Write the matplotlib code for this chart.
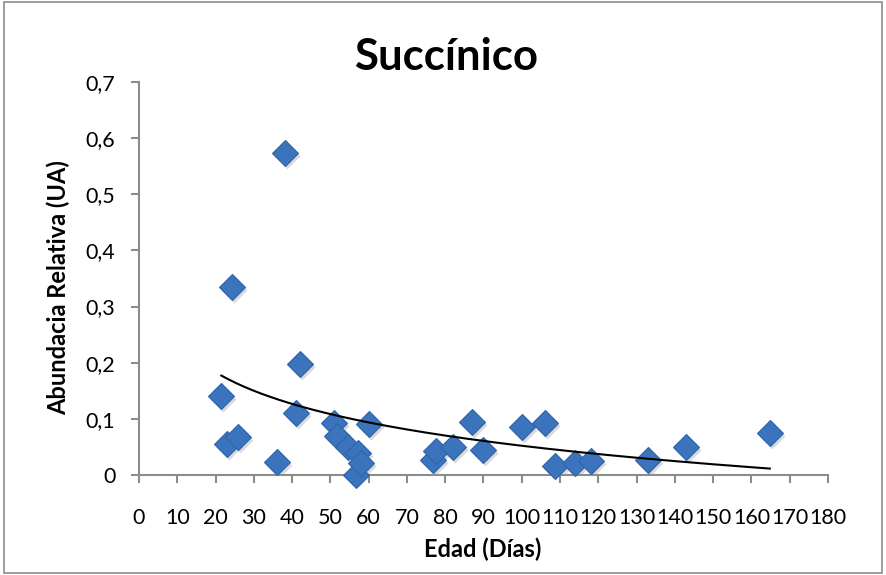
import matplotlib
matplotlib.use('Agg')
import matplotlib.pyplot as plt
import matplotlib.transforms as mtransforms
from matplotlib.patches import Rectangle
import numpy as np

# Edad (días) y abundancia relativa de succínico
edad = [21.5, 22.9, 24.3, 25.9, 36.0, 38.1, 41.0, 42.1, 51.0, 51.8, 54.6,
        56.8, 57.3, 58.1, 60.1, 76.8, 77.7, 82.1, 87.1, 89.9, 100.1, 106.1,
        108.8, 113.8, 118.2, 132.9, 143.0, 164.8]
abundancia = [0.141, 0.056, 0.335, 0.068, 0.024, 0.574, 0.111, 0.198, 0.092,
              0.070, 0.050, 0.000, 0.040, 0.021, 0.091, 0.026, 0.042, 0.049,
              0.095, 0.044, 0.085, 0.092, 0.016, 0.021, 0.025, 0.027, 0.050,
              0.074]

x_ticks = list(range(0, 181, 10))
y_ticks = [0, 0.1, 0.2, 0.3, 0.4, 0.5, 0.6, 0.7]
y_labels = ['0', '0,1', '0,2', '0,3', '0,4', '0,5', '0,6', '0,7']

plt.rcParams['font.family'] = ['Lato', 'DejaVu Sans']

fig = plt.figure(figsize=(8.86, 5.75), dpi=100)
ax = fig.add_axes([0.1569, 0.1739, 0.7776, 0.6835])

# línea de tendencia logarítmica (como en Excel)
xa = np.array(edad)
ya = np.array(abundancia)
a, b = np.polyfit(np.log(xa), ya, 1)
xt = np.linspace(xa.min(), xa.max(), 200)
ax.plot(xt, a * np.log(xt) + b, color='black', lw=1.5, zorder=4)

# sombra de los marcadores
shadow = mtransforms.offset_copy(ax.transData, fig=fig, x=2, y=-3, units='dots')
ax.plot(edad, abundancia, 'D', ms=13.5, color='#9a9a9a', alpha=0.35,
        mec='none', transform=shadow, zorder=2)
ax.plot(edad, abundancia, 'D', ms=13.5, color='#3b74bd', mec='#2f63a8',
        mew=0.8, zorder=3, clip_on=False)

ax.set_xlim(0, 180)
ax.set_ylim(0, 0.7)
ax.set_xticks(x_ticks)
ax.set_xticklabels([str(t) for t in x_ticks])
ax.set_yticks(y_ticks)
ax.set_yticklabels(y_labels)

for s in ['top', 'right']:
    ax.spines[s].set_visible(False)
for s in ['left', 'bottom']:
    ax.spines[s].set_color('#8c8c8c')
    ax.spines[s].set_linewidth(1.5)
ax.tick_params(axis='both', direction='out', colors='#8c8c8c', width=1.5,
               length=6, labelcolor='black', labelsize=15.5)
ax.tick_params(axis='x', pad=18)
ax.tick_params(axis='y', pad=11)

fig.suptitle('Succínico', x=0.503, y=1 - 70 / 575, va='baseline',
             fontsize=31.5, fontweight='bold')
ax.set_xlabel('Edad (Días)', fontsize=17, fontweight='bold')
ax.set_ylabel('Abundacia Relativa (UA)', fontsize=17, fontweight='bold')
ax.xaxis.set_label_coords(0.545, 1 - 538 / 575, transform=fig.transFigure)
ax.yaxis.set_label_coords(70 / 886, 0.5, transform=fig.transFigure)

fig.patches.append(Rectangle((0.004, 0.004), 0.992, 0.992, transform=fig.transFigure,
                             fill=False, edgecolor='#8c8c8c', lw=1.2))

fig.savefig('out.png', dpi=100)
